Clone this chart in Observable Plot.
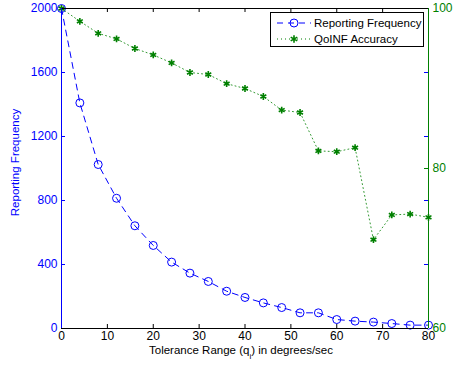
<!DOCTYPE html>
<html>
<head>
<meta charset="utf-8">
<script src="https://cdn.jsdelivr.net/npm/d3@7"></script>
<script src="https://cdn.jsdelivr.net/npm/@observablehq/plot@0.6"></script>
<style>
  body { margin: 0; background: white; }
  #wrap { position: relative; width: 456px; height: 368px; font-family: "Liberation Sans", Arial, sans-serif; }
  #legend { position: absolute; left: 270px; top: 12px; width: 152px; height: 33px; border: 1px solid black; background: white; font-size: 11.5px; }
  #legend svg { position: absolute; left: 0; top: 0; }
</style>
</head>
<body>
<div id="wrap"></div>
<script>
const tolerance = [0, 4, 8, 12, 16, 20, 24, 28, 32, 36, 40, 44, 48, 52, 56, 60, 64, 68, 72, 76, 80];
const reportingFrequency = [2000, 1410, 1025, 814, 642, 519, 415, 346, 294, 233, 194, 160, 131, 98, 98, 56, 46, 40, 31, 21, 21];
const qoinfAccuracy = [100, 98.4, 96.9, 96.2, 95.0, 94.2, 93.2, 92.0, 91.75, 90.6, 90.0, 89.0, 87.3, 87.0, 82.2, 82.1, 82.6, 71.1, 74.2, 74.3, 73.9];
const xTicks = [0, 10, 20, 30, 40, 50, 60, 70, 80];
const freqTicks = [0, 400, 800, 1200, 1600, 2000];
const accTicks = [60, 80, 100];
const seriesNames = ["Reporting Frequency", "QoINF Accuracy"];

const BLUE = "#0000ff";
const GREEN = "#008000";
const accToY = a => (a - 60) * 50;   // map 60..100 onto 0..2000
const yToAcc = y => y / 50 + 60;

const data = tolerance.map((t, i) => ({t, f: reportingFrequency[i], a: accToY(qoinfAccuracy[i])}));

const plotW = 456 - 61 - 28;
const plotH = 368 - 8 - 40;

const chart = Plot.plot({
  width: 456,
  height: 368,
  marginLeft: 61,
  marginRight: 28,
  marginTop: 8,
  marginBottom: 40,
  style: {fontFamily: "'Liberation Sans', Arial, sans-serif", fontSize: "12px", background: "white"},
  x: {domain: [0, 80]},
  y: {domain: [0, 2000]},
  marks: [
    // inward ticks
    Plot.tickY(freqTicks.slice(1, -1), {y: d => d, stroke: BLUE, insetRight: plotW - 4}),
    Plot.tickY(freqTicks.slice(1, -1), {y: d => d, stroke: BLUE, insetLeft: plotW - 4}),
    Plot.tickY(accTicks.slice(1, -1).map(accToY), {y: d => d, stroke: GREEN, insetLeft: plotW - 4}),
    Plot.tickX(xTicks.slice(1, -1), {x: d => d, stroke: "black", insetTop: plotH - 4}),
    Plot.tickX(xTicks.slice(1, -1), {x: d => d, stroke: "black", insetBottom: plotH - 4}),
    // tick labels
    Plot.axisX(xTicks, {tickSize: 0, tickPadding: 3, label: null, fill: "black", tickFormat: d => String(d)}),
    Plot.axisY(freqTicks, {anchor: "left", tickSize: 0, tickPadding: 4, label: null, fill: BLUE, tickFormat: d => String(d)}),
    Plot.axisY(accTicks.map(accToY), {anchor: "right", tickSize: 0, tickPadding: 4, label: null, fill: GREEN, tickFormat: v => String(yToAcc(v))}),
    // axis titles
    Plot.text(["Tolerance Range (qi) in degrees/sec"], {frameAnchor: "bottom", textAnchor: "middle", lineAnchor: "middle", dy: 22, dx: -4, fontSize: 11.5, fill: "black", text: d => d}),
    Plot.text(["Reporting Frequency"], {frameAnchor: "left", textAnchor: "middle", lineAnchor: "middle", dx: -46, dy: -6, rotate: -90, fontSize: 11.5, fill: BLUE, text: d => d}),
    // series
    Plot.line(data, {x: "t", y: "f", stroke: BLUE, strokeWidth: 1, strokeDasharray: "6,5"}),
    Plot.dot(data, {x: "t", y: "f", r: 4, stroke: BLUE, fill: "none", strokeWidth: 1}),
    Plot.line(data, {x: "t", y: "a", stroke: GREEN, strokeWidth: 1, strokeDasharray: "1,3", strokeOpacity: 0.8}),
    Plot.dot(data, {x: "t", y: "a", r: 3.2, symbol: "asterisk", stroke: GREEN, strokeWidth: 1.6}),
    // frame
    Plot.ruleY([2000], {stroke: "black"}),
    Plot.ruleY([0], {stroke: "black"}),
    Plot.ruleX([0], {stroke: BLUE}),
    Plot.ruleX([80], {stroke: GREEN})
  ]
});

// subscript for q_i
d3.select(chart).selectAll("text").each(function() {
  const t = this.textContent;
  if (t.includes("(qi)")) {
    const el = d3.select(this);
    el.text("");
    el.append("tspan").text("Tolerance Range (q");
    el.append("tspan").attr("baseline-shift", "sub").attr("font-size", "8px").text("i");
    el.append("tspan").text(") in degrees/sec");
  }
});

const wrap = document.getElementById("wrap");
wrap.appendChild(chart);

// legend (inside plot area, top right)
const legend = document.createElement("div");
legend.id = "legend";
legend.innerHTML = `
<svg width="152" height="33">
  <line x1="6" x2="40" y1="10" y2="10" stroke="${BLUE}" stroke-dasharray="6,5"/>
  <circle cx="23" cy="10" r="4" fill="none" stroke="${BLUE}"/>
  <text x="43" y="14" font-size="11.5" fill="black" font-family="Liberation Sans, Arial">${seriesNames[0]}</text>
  <line x1="6" x2="40" y1="26" y2="26" stroke="${GREEN}" stroke-dasharray="1,3"/>
  <g transform="translate(23,26)" stroke="${GREEN}" stroke-width="1.6">
    <path d="${d3.symbol(d3.symbolAsterisk, 40)()}"/>
  </g>
  <text x="43" y="30" font-size="11.5" fill="black" font-family="Liberation Sans, Arial">${seriesNames[1]}</text>
</svg>`;
wrap.appendChild(legend);
</script>
</body>
</html>
